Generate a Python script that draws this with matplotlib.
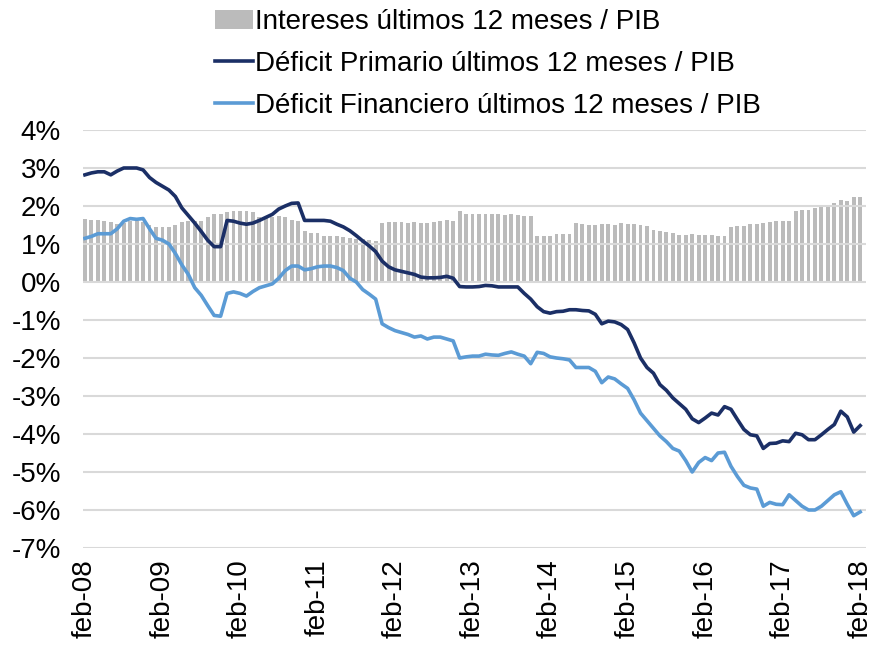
import matplotlib
matplotlib.use('Agg')
import matplotlib.pyplot as plt
import numpy as np

plt.rcParams['font.family'] = ['Liberation Sans', 'DejaVu Sans']

# datos mensuales feb-08 .. feb-18 (% del PIB)
intereses = [1.65, 1.63, 1.63, 1.60, 1.58, 1.52, 1.55, 1.60, 1.60, 1.58,
             1.50, 1.45, 1.45, 1.45, 1.50, 1.58, 1.60, 1.60, 1.60, 1.70,
             1.78, 1.80, 1.85, 1.87, 1.87, 1.88, 1.85, 1.72, 1.70, 1.72,
             1.75, 1.72, 1.62, 1.60, 1.35, 1.30, 1.30, 1.22, 1.20, 1.20,
             1.18, 1.15, 1.12, 1.12, 1.10, 1.08, 1.55, 1.58, 1.58, 1.57,
             1.55, 1.58, 1.55, 1.55, 1.58, 1.60, 1.62, 1.60, 1.88, 1.80,
             1.80, 1.80, 1.78, 1.78, 1.78, 1.77, 1.78, 1.77, 1.75, 1.75,
             1.20, 1.20, 1.20, 1.27, 1.27, 1.27, 1.55, 1.52, 1.50, 1.50,
             1.52, 1.52, 1.50, 1.55, 1.53, 1.52, 1.50, 1.48, 1.38, 1.35,
             1.32, 1.30, 1.25, 1.25, 1.27, 1.23, 1.23, 1.25, 1.22, 1.22,
             1.45, 1.48, 1.47, 1.52, 1.52, 1.55, 1.58, 1.60, 1.60, 1.60,
             1.88, 1.90, 1.90, 1.95, 1.98, 2.02, 2.08, 2.15, 2.12, 2.25,
             2.25]

primario = [2.82, 2.87, 2.90, 2.90, 2.82, 2.92, 3.00, 3.00, 3.00, 2.95,
            2.75, 2.62, 2.52, 2.42, 2.25, 1.95, 1.75, 1.55, 1.33, 1.10,
            0.93, 0.93, 1.62, 1.60, 1.55, 1.52, 1.55, 1.62, 1.70, 1.78,
            1.92, 2.00, 2.07, 2.08, 1.62, 1.62, 1.62, 1.62, 1.60, 1.52,
            1.45, 1.35, 1.22, 1.08, 0.95, 0.80, 0.55, 0.40, 0.32, 0.28,
            0.24, 0.20, 0.13, 0.11, 0.11, 0.12, 0.15, 0.10, -0.12, -0.13,
            -0.13, -0.12, -0.09, -0.10, -0.13, -0.13, -0.13, -0.13, -0.30, -0.45,
            -0.65, -0.78, -0.82, -0.78, -0.77, -0.73, -0.73, -0.75, -0.76, -0.85,
            -1.10, -1.03, -1.05, -1.12, -1.25, -1.60, -2.00, -2.25, -2.40, -2.70,
            -2.85, -3.05, -3.20, -3.35, -3.60, -3.70, -3.58, -3.45, -3.50, -3.28,
            -3.35, -3.62, -3.88, -4.02, -4.05, -4.38, -4.25, -4.24, -4.18, -4.20,
            -3.98, -4.02, -4.15, -4.15, -4.02, -3.88, -3.75, -3.40, -3.55, -3.95,
            -3.78]

financiero = [1.15, 1.20, 1.27, 1.27, 1.27, 1.40, 1.60, 1.67, 1.65, 1.67,
              1.40, 1.15, 1.10, 1.00, 0.75, 0.45, 0.20, -0.15, -0.35, -0.62,
              -0.88, -0.90, -0.30, -0.26, -0.30, -0.37, -0.25, -0.15, -0.10, -0.05,
              0.10, 0.30, 0.42, 0.42, 0.32, 0.35, 0.40, 0.42, 0.42, 0.38,
              0.30, 0.10, 0.00, -0.20, -0.32, -0.45, -1.10, -1.20, -1.28, -1.33,
              -1.38, -1.45, -1.42, -1.50, -1.45, -1.45, -1.50, -1.55, -2.00, -1.97,
              -1.95, -1.95, -1.90, -1.92, -1.93, -1.88, -1.84, -1.90, -1.95, -2.15,
              -1.85, -1.88, -1.97, -2.00, -2.02, -2.05, -2.25, -2.25, -2.25, -2.35,
              -2.65, -2.50, -2.55, -2.68, -2.80, -3.10, -3.45, -3.65, -3.85, -4.05,
              -4.20, -4.38, -4.45, -4.70, -5.00, -4.75, -4.62, -4.70, -4.50, -4.48,
              -4.85, -5.12, -5.35, -5.42, -5.45, -5.90, -5.80, -5.85, -5.86, -5.60,
              -5.75, -5.90, -6.00, -6.00, -5.90, -5.75, -5.60, -5.52, -5.85, -6.15,
              -6.05]

etiquetas_x = ['feb-08', 'feb-09', 'feb-10', 'feb-11', 'feb-12', 'feb-13',
               'feb-14', 'feb-15', 'feb-16', 'feb-17', 'feb-18']
valores_y = [4, 3, 2, 1, 0, -1, -2, -3, -4, -5, -6, -7]

x = np.arange(len(intereses))

fig = plt.figure(figsize=(8.76, 6.46), dpi=100)
ax = fig.add_axes([83/876, 1 - 548/646, (866 - 83)/876, (548 - 130)/646])

b = ax.bar(x, intereses, 0.6, color='#BBBBBB', zorder=1)
l1, = ax.plot(x, primario, color='#1B2F66', lw=2.6, zorder=3)
l2, = ax.plot(x, financiero, color='#5B9BD5', lw=2.6, zorder=3)

ax.set_ylim(-7, 4)
ax.set_xlim(-0.3, 120.9)
ax.set_yticks(valores_y)
ax.set_yticklabels([str(v) + '%' for v in valores_y])
ax.set_xticks(x[::12])
ax.set_xticklabels(etiquetas_x, rotation=90)
ax.tick_params(axis='both', length=0, labelsize=20)
ax.tick_params(axis='y', pad=16)
ax.tick_params(axis='x', pad=8)

ax.set_axisbelow(False)
ax.grid(axis='y', color='#D9D9D9', lw=1.5, zorder=2)
for s in ax.spines.values():
    s.set_visible(False)

fig.legend([b, l1, l2],
           ['Intereses últimos 12 meses / PIB',
            'Déficit Primario últimos 12 meses / PIB',
            'Déficit Financiero últimos 12 meses / PIB'],
           loc='upper left', bbox_to_anchor=(215/876, 1 - 9/646), frameon=False,
           fontsize=20, borderpad=0, borderaxespad=0, handlelength=1.35,
           handletextpad=0.1, labelspacing=0.58)

plt.savefig('out.png', dpi=100)
